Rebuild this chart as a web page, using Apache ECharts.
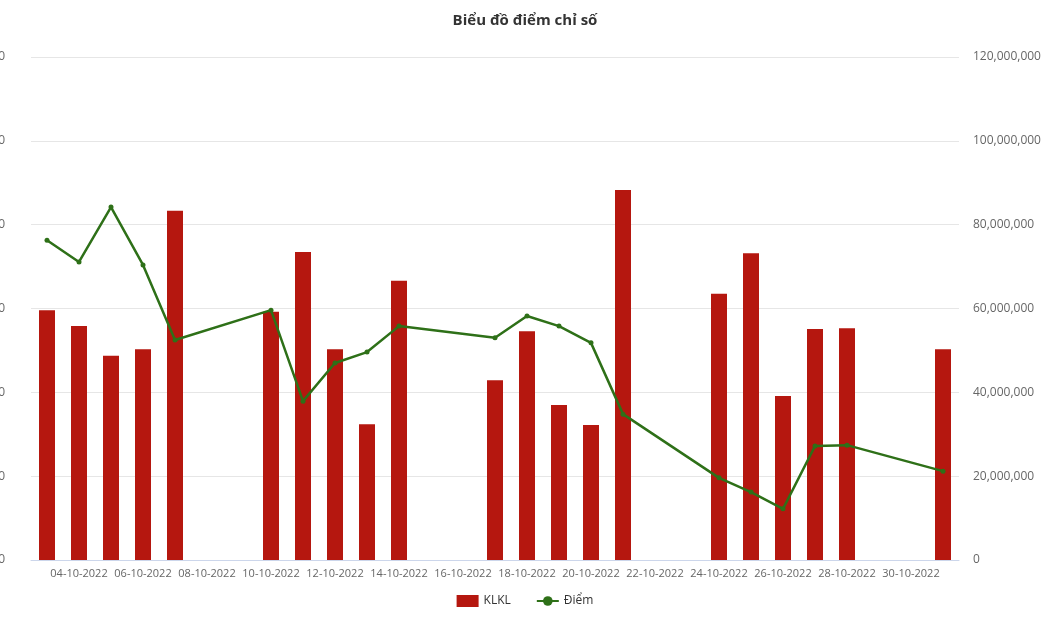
<!DOCTYPE html>
<html>
<head>
<meta charset="utf-8">
<script src="https://cdn.jsdelivr.net/npm/echarts@6/dist/echarts.min.js"></script>
<style>html,body{margin:0;padding:0;background:#fff}#chart{width:1050px;height:630px}</style>
</head>
<body>
<div id="chart"></div>
<script>
// ngày 03 -> 31/10/2022
const days = [];
for (let d = 3; d <= 31; d++) days.push((d < 10 ? '0' + d : '' + d) + '-10-2022');

// KLKL theo ngày (null = không giao dịch)
const klkl = [59.6, 55.8, 48.7, 50.3, 83.3, null, null, 59.2, 73.5, 50.3, 32.4, 66.6, null, null,
  42.9, 54.6, 37.0, 32.2, 88.3, null, null, 63.5, 73.2, 39.1, 55.1, 55.3, null, null, 50.3]
  .map(v => v == null ? null : v * 1e6);
// Điểm (trục trái, nhãn bị cắt)
const diem = [763, 711, 842, 704, 525, null, null, 596, 379, 470, 496, 558, null, null,
  530, 582, 558, 518, 348, null, null, 196, 162, 122, 272, 274, null, null, 212];

const chart = echarts.init(document.getElementById('chart'));
chart.setOption({
  animation: false,
  textStyle: { fontFamily: 'Open Sans' },
  title: { text: 'Biểu đồ điểm chỉ số', left: 'center', top: 8,
    textStyle: { fontSize: 15, fontWeight: 'bold', color: '#333' } },
  legend: { bottom: 18, itemGap: 25, textStyle: { fontSize: 12, color: '#333' },
    data: [{ name: 'KLKL', icon: 'rect' }, { name: 'Điểm', itemStyle: { borderWidth: 0 } }],
    itemWidth: 22, itemHeight: 12 },
  grid: { left: 31, right: 91, top: 57, bottom: 70, containLabel: false, outerBoundsMode: 'none' },
  xAxis: {
    type: 'category', data: days,
    axisLine: { lineStyle: { color: '#ccd6eb' } },
    axisTick: { alignWithLabel: true, interval: (i) => i % 2 === 1, lineStyle: { color: '#ccd6eb' } },
    axisLabel: { interval: (i) => i % 2 === 1, color: '#666', fontSize: 11 }
  },
  yAxis: [
    { type: 'value', min: 0, max: 1200, interval: 200,
      splitLine: { lineStyle: { color: '#e6e6e6' } },
      axisLabel: { color: '#666', fontSize: 12, margin: 26,
        formatter: v => v.toLocaleString('en-US') } },
    { type: 'value', min: 0, max: 120e6, interval: 20e6, position: 'right',
      splitLine: { show: false },
      axisLabel: { color: '#666', fontSize: 12, margin: 14,
        formatter: v => v.toLocaleString('en-US') } }
  ],
  series: [
    { name: 'KLKL', type: 'bar', yAxisIndex: 1, data: klkl, barWidth: 16,
      itemStyle: { color: '#b5170f' } },
    { name: 'Điểm', type: 'line', yAxisIndex: 0, data: diem, connectNulls: true,
      symbol: 'circle', symbolSize: 5,
      lineStyle: { color: '#2e7018', width: 2.5 }, itemStyle: { color: '#2e7018' } }
  ]
});
</script>
</body>
</html>
